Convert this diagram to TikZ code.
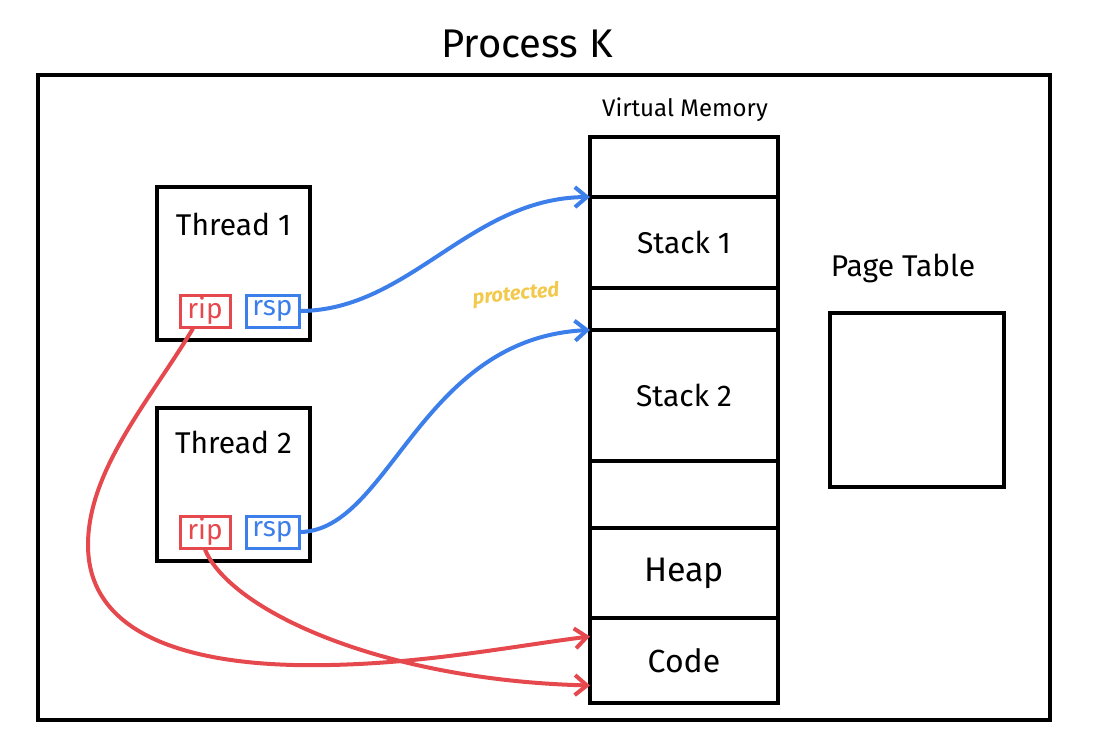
\documentclass[tikz,border=0pt]{standalone}
\usepackage{fontspec}
\setmainfont{Fira Sans}
\usetikzlibrary{positioning,arrows.meta}
\definecolor{RegRed}{HTML}{E5484D}
\definecolor{RegBlue}{HTML}{3D7FEA}
\definecolor{NoteYellow}{HTML}{F2C94C}

\begin{document}
\begin{tikzpicture}[x=0.5pt,y=-0.5pt, node distance=6.5pt,
  every node/.style={font=\fontsize{15}{17}\selectfont},
  blk/.style={draw,line width=2pt,outer sep=0pt,inner sep=0pt},
  memcell/.style={blk,minimum width=94pt,anchor=north},
  thbox/.style={blk,minimum width=76.5pt,minimum height=76.5pt},
  reg/.style={draw,line width=1.5pt,minimum height=16pt,inner sep=0pt,font=\fontsize{14}{15}\selectfont},
  ptr/.style={line width=2pt,-{Straight Barb[length=6pt,width=10pt,line width=2pt]}}]
\useasboundingbox (0,0) rectangle (1094,755);

% frame and title
\node[blk,minimum width=506pt,minimum height=322.5pt] (proc) at (544,397.5) {};
\node[font=\fontsize{20}{22}\selectfont] (title) at (527,44) {Process K};

% threads
\node[thbox] (t1) at (233.5,263.5) {};
\node[yshift=-18.5pt] (t1name) at (t1.north) {Thread 1};
\node[reg,RegRed,minimum width=25pt] (rip1) at (205,311) {rip};
\node[reg,RegBlue,minimum width=26.5pt,right=of rip1] (rsp1) {rsp};

\node[thbox] (t2) at (233.5,484) {};
\node[yshift=-17.5pt] (t2name) at (t2.north) {Thread 2};
\node[reg,RegRed,minimum width=25pt] (rip2) at (205,532) {rip};
\node[reg,RegBlue,minimum width=26.5pt,right=of rip2] (rsp2) {rsp};

% virtual memory
\node[font=\fontsize{12}{14}\selectfont] (vmname) at (685,110) {Virtual Memory};
\node[memcell,minimum height=30pt] (m0) at (684,137) {};
\node[memcell,minimum height=45.5pt,below=0pt of m0] (stk1) {Stack 1};
\node[memcell,minimum height=21pt,below=0pt of stk1] (prot) {};
\node[memcell,minimum height=65.5pt,below=0pt of prot] (stk2) {Stack 2};
\node[memcell,minimum height=33.5pt,below=0pt of stk2] (m4) {};
\node[memcell,minimum height=45pt,below=0pt of m4,font=\fontsize{17}{19}\selectfont] (heap) {Heap};
\node[memcell,minimum height=42.5pt,below=0pt of heap,font=\fontsize{16}{18}\selectfont] (code) {Code};
\node[font=\fontsize{10}{11}\selectfont\bfseries\itshape,NoteYellow,rotate=6] (protnote) at (516,295) {protected};

% page table
\node[blk,minimum width=87pt,minimum height=87pt] (pt) at (917,400) {};
\node (ptname) at (903,268) {Page Table};

% pointers
\draw[ptr,RegBlue] (rsp1.east) .. controls (410,310) and (470,198) .. (stk1.north west);
\draw[ptr,RegBlue] (rsp2.east) .. controls (390,530) and (420,338) .. (stk2.north west);
\draw[ptr,RegRed] ([xshift=-6pt]rip1.south) .. controls (150,400) and (88,470) .. (88,545)
  .. controls (88,640) and (200,668) .. (330,665)
  .. controls (430,663) and (520,645) .. ([yshift=12pt]code.west);
\draw[ptr,RegRed] (rip2.south) .. controls (230,610) and (380,680) .. ([yshift=-12.5pt]code.west);
\end{tikzpicture}
\end{document}
